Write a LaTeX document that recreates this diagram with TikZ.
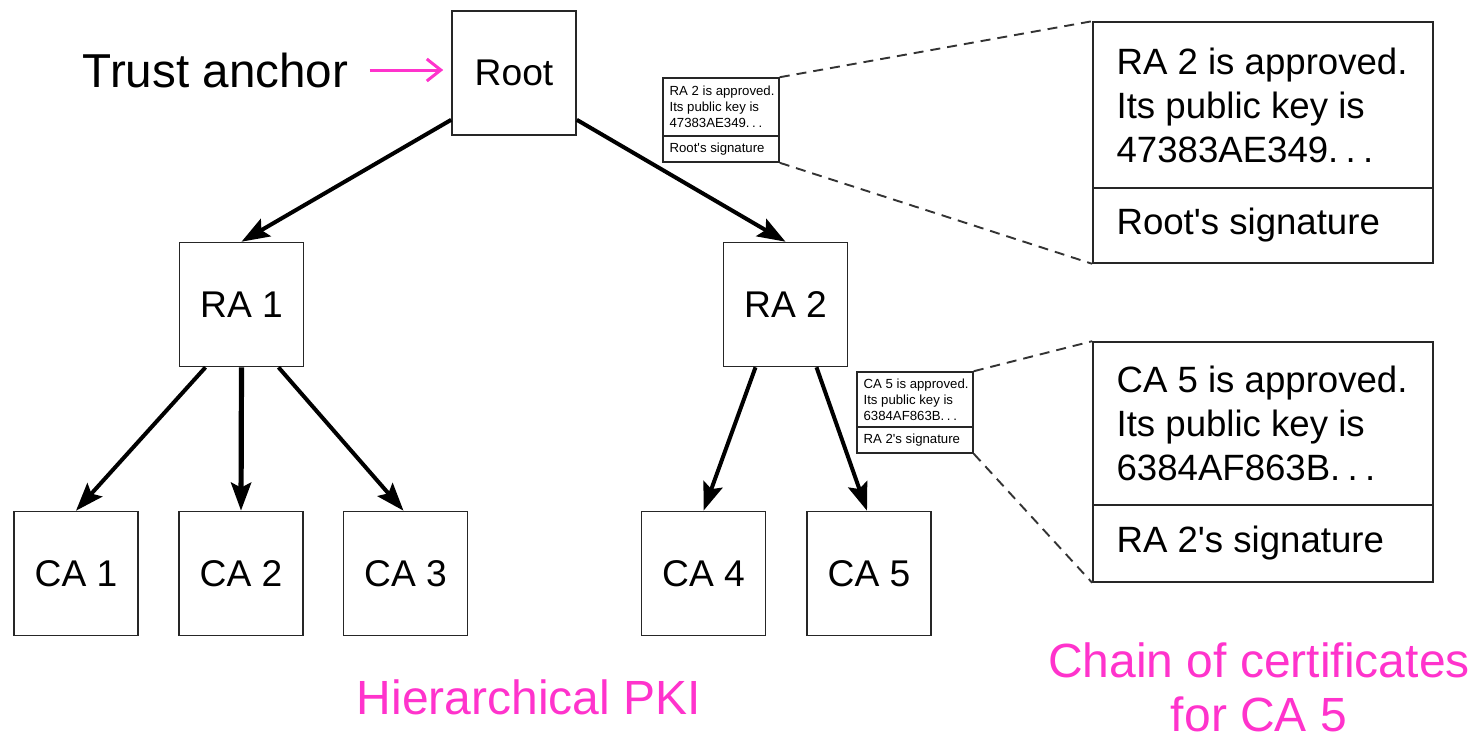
\documentclass[tikz,border=0pt]{standalone}
\usepackage{fontspec}
\setmainfont{Liberation Sans}[Ligatures=TeXOff]
\usetikzlibrary{arrows.meta}
\definecolor{pkipink}{RGB}{255,51,204}
\begin{document}
\begin{tikzpicture}[x=0.5pt,y=-0.5pt,
  box/.style={draw=black!85, line width=0.8pt, minimum width=62pt, minimum height=62pt,
    inner sep=0pt, font=\fontsize{18.6}{22}\selectfont},
  link/.style={line width=2pt, -{Stealth[length=14pt,width=10pt,inset=2.5pt]}},
  zoomline/.style={line width=0.95pt, draw=black!80, dash pattern=on 5pt off 3.5pt},
  certpart/.style={draw=black!85, line width=0.8pt, inner sep=0pt},
  bigtext/.style={font=\fontsize{18.3}{22}\selectfont, align=left, anchor=west, inner sep=0pt},
  smalltext/.style={font=\fontsize{6.6}{7.9}\selectfont, align=left, anchor=west, inner sep=0pt},
  caption/.style={text=pkipink, font=\fontsize{24}{27}\selectfont, align=center, inner sep=0pt},
  pinkarrow/.style={draw=pkipink, line width=1.5pt, -{Straight Barb[length=7pt,width=11pt,line width=1.5pt]}}
]
\useasboundingbox (0,0) rectangle (1472,739);

% hierarchy
\node[box] (root) at (514,73) {Root};
\node[box] (ra1) at (241.5,304.5) {RA 1};
\node[box] (ra2) at (785.5,304.5) {RA 2};
\node[box] (ca1) at (76,573.5) {CA 1};
\node[box] (ca2) at (241,573.5) {CA 2};
\node[box] (ca3) at (405.5,573.5) {CA 3};
\node[box] (ca4) at (703.5,573.5) {CA 4};
\node[box] (ca5) at (869,573.5) {CA 5};

\draw[link] ([yshift=8pt]root.south west) -- (ra1.north);
\draw[link] ([yshift=8pt]root.south east) -- (ra2.north);
\draw[link] ([xshift=-18pt]ra1.south) -- (ca1.north);
\draw[link, line width=2.6pt] (ra1.south) -- (ca2.north);
\draw[link] ([xshift=18.5pt]ra1.south) -- ([xshift=-1pt]ca3.north);
\draw[link] ([xshift=-15pt]ra2.south) -- (ca4.north);
\draw[link] ([xshift=15.5pt]ra2.south) -- ([xshift=-1pt]ca5.north);

% trust anchor label
\node[inner sep=0pt, font=\fontsize{23.8}{28}\selectfont] (trust) at (215.5,70) {Trust anchor};
\draw[pinkarrow] ([xshift=10.5pt]trust.east) -- ([xshift=-4pt]root.west |- trust.east);

% small certificates
\node[certpart, minimum width=58pt, minimum height=29pt] (s1top) at (721,107) {};
\node[certpart, minimum width=58pt, minimum height=13pt] (s1bot) at (721,149) {};
\node[smalltext] at ([xshift=3.5pt]s1top.west) {RA 2 is approved.\\Its public key is\\47383AE349.\hspace{0.2em}.\hspace{0.2em}.};
\node[smalltext] at ([xshift=3.5pt]s1bot.west) {Root's signature};

\node[certpart, minimum width=58pt, minimum height=27.5pt] (s2top) at (915,399.5) {};
\node[certpart, minimum width=58pt, minimum height=13pt] (s2bot) at (915,440) {};
\node[smalltext] at ([xshift=3.5pt]s2top.west) {CA 5 is approved.\\Its public key is\\6384AF863B.\hspace{0.2em}.\hspace{0.2em}.};
\node[smalltext] at ([xshift=3.5pt]s2bot.west) {RA 2's signature};

% enlarged certificates
\node[certpart, minimum width=170pt, minimum height=83pt] (b1top) at (1263,105) {};
\node[certpart, minimum width=170pt, minimum height=37.5pt] (b1bot) at (1263,225.5) {};
\node[bigtext] at ([xshift=12pt]b1top.west) {RA 2 is approved.\\Its public key is\\47383AE349.\hspace{0.2em}.\hspace{0.2em}.};
\node[bigtext] at ([xshift=12pt]b1bot.west) {Root's signature};

\node[certpart, minimum width=170pt, minimum height=81.5pt] (b2top) at (1263,423.5) {};
\node[certpart, minimum width=170pt, minimum height=38.5pt] (b2bot) at (1263,543.5) {};
\node[bigtext] at ([xshift=12pt]b2top.west) {CA 5 is approved.\\Its public key is\\6384AF863B.\hspace{0.2em}.\hspace{0.2em}.};
\node[bigtext] at ([xshift=12pt]b2bot.west) {RA 2's signature};

% zoom lines
\draw[zoomline] (s1top.north east) -- (b1top.north west);
\draw[zoomline] (s1bot.south east) -- (b1bot.south west);
\draw[zoomline] (s2top.north east) -- (b2top.north west);
\draw[zoomline] (s2bot.south east) -- (b2bot.south west);

% captions
\node[caption] (hpki) at (529,697) {Hierarchical PKI};
\node[caption, text depth=0pt, anchor=south] (chain) at (1259,732) {Chain of certificates\\for CA 5};
\end{tikzpicture}
\end{document}
